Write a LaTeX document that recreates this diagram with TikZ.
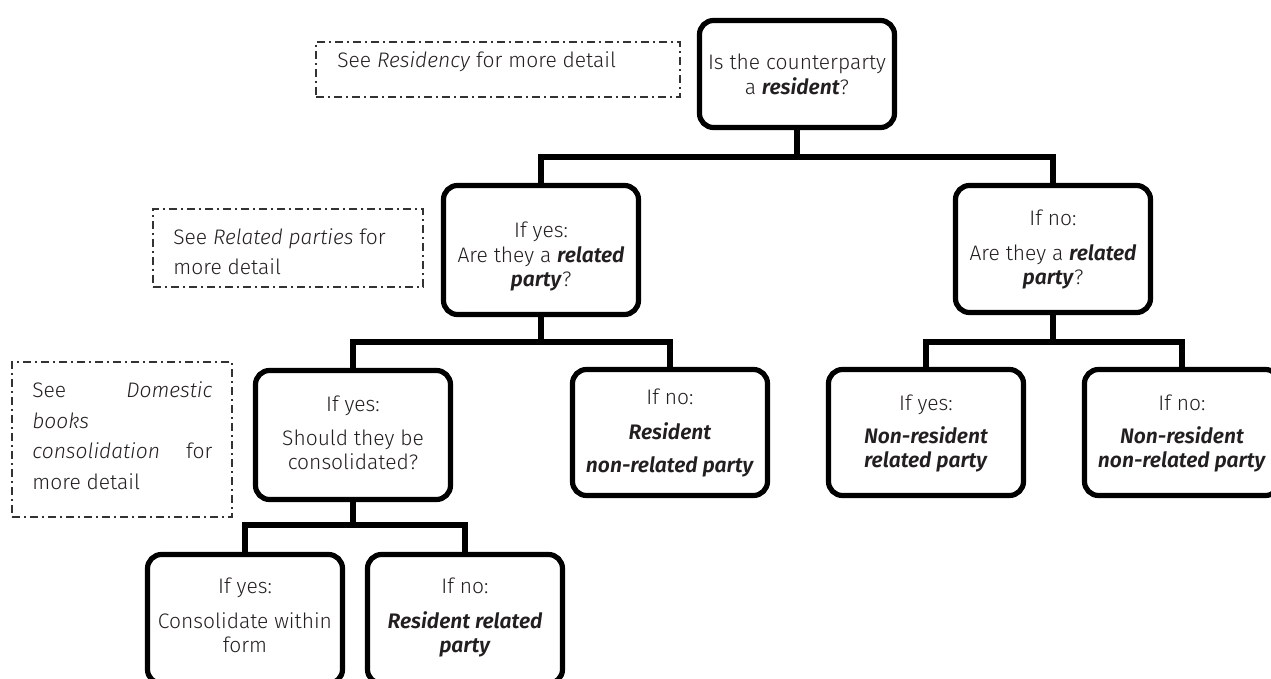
\documentclass[tikz,border=0pt]{standalone}
\usepackage{fontspec}
\setmainfont{Fira Sans}[UprightFont=* Light, ItalicFont=* Light Italic, BoldFont=* SemiBold, BoldItalicFont=* SemiBold Italic]
\newcommand{\bi}[1]{\textbf{\textit{#1}}}
\definecolor{txt}{HTML}{231F20}
\begin{document}
\begin{tikzpicture}[x=0.5pt,y=-0.5pt,
  box/.style={draw=black, line width=2.6pt, rounded corners=7pt, inner sep=0pt,
    minimum width=97.5pt},
  btext/.style={anchor=base, inner sep=0pt, align=center, text=txt,
    font=\fontsize{10.5}{12}\selectfont},
  note/.style={draw=black!80, line width=0.6pt, dash pattern=on 4pt off 2pt on 1pt off 2pt,
    inner sep=0pt},
  ntext/.style={anchor=base west, inner sep=0pt, align=left, text=txt},
  link/.style={line width=2.6pt, line join=miter}]
\useasboundingbox (0,0) rectangle (1271,679);
\clip (0,0) rectangle (1271,679);
\fill[white] (0,0) rectangle (1271,679);

% notes
\node[note, minimum width=182pt, minimum height=27.5pt] (n1) at (498,69.5) {};
\node[ntext, font=\fontsize{10.5}{12}\selectfont] (t1) at (337,68) {See \textit{Residency} for more detail};

\node[note, minimum width=135pt, minimum height=39pt] (n2) at (288,248) {};
\node[ntext, font=\fontsize{10.5}{15}\selectfont] (t2) at (173,275) {See \textit{Related parties} for\\more detail};

\node[note, minimum width=110pt, minimum height=77.5pt] (n3) at (122,439.5) {};
\node[ntext, font=\fontsize{10.5}{15.5}\selectfont] (t3) at (32,490)
  {\makebox[90pt][s]{See\hfill\textit{Domestic}}\\\textit{books}\\\makebox[90pt][s]{\textit{consolidation}\hfill for}\\more detail};

% boxes
\node[box, minimum height=53.5pt] (top) at (797,74) {};
\node[box, minimum height=64.5pt] (midL) at (541,250) {};
\node[box, minimum height=63.5pt] (midR) at (1053,249) {};
\node[box, minimum height=64.5pt] (consQ) at (353,435) {};
\node[box, minimum height=63pt] (resNR) at (670,432.5) {};
\node[box, minimum height=63pt] (nrR) at (926,432.5) {};
\node[box, minimum height=63pt] (nrNR) at (1182,432.5) {};
\node[box, minimum height=64.5pt] (consW) at (245,619) {};
\node[box, minimum height=64.5pt] (resR) at (465,619) {};

% box texts (anchored on the baseline of their last line)
\node[btext] (topT) at (797,95) {Is the counterparty\\[0.5pt]a \bi{resident}?};
\node[btext] (midLT) at (541,287) {If yes:\\[0.5pt]Are they a \bi{related}\\\bi{party}?};
\node[btext] (midRT) at (1053,285) {If no:\\[5.5pt]Are they a \bi{related}\\\bi{party}?};
\node[btext] (consQT) at (353,470) {If yes:\\[5pt]Should they be\\consolidated?};
\node[btext] (resNRT) at (670,473) {If no:\\[5.5pt]\bi{Resident}\\[4.5pt]\bi{non-related party}};
\node[btext] (nrRT) at (926,468) {If yes:\\[4.5pt]\bi{Non-resident}\\\bi{related party}};
\node[btext] (nrNRT) at (1182,468) {If no:\\[4.5pt]\bi{Non-resident}\\\bi{non-related party}};
\node[btext] (consWT) at (245,653) {If yes:\\[5.5pt]Consolidate within\\form};
\node[btext] (resRT) at (465,653) {If no:\\[5.5pt]\bi{Resident related}\\\bi{party}};

% connectors
\coordinate (b1) at (797,157);
\draw[link] (top.south) -- (b1);
\draw[link] (midL.north) |- (b1) -| (midR.north);

\coordinate (b2) at (541,342);
\draw[link] (midL.south) -- (b2);
\draw[link] (consQ.north) |- (b2) -| (resNR.north);

\coordinate (b3) at (1053,342);
\draw[link] (midR.south) -- (b3);
\draw[link] (nrR.north) |- (b3) -| (nrNR.north);

\coordinate (b4) at (353,525);
\draw[link] (consQ.south) -- (b4);
\draw[link] (consW.north) |- (b4) -| (resR.north);
\end{tikzpicture}
\end{document}
